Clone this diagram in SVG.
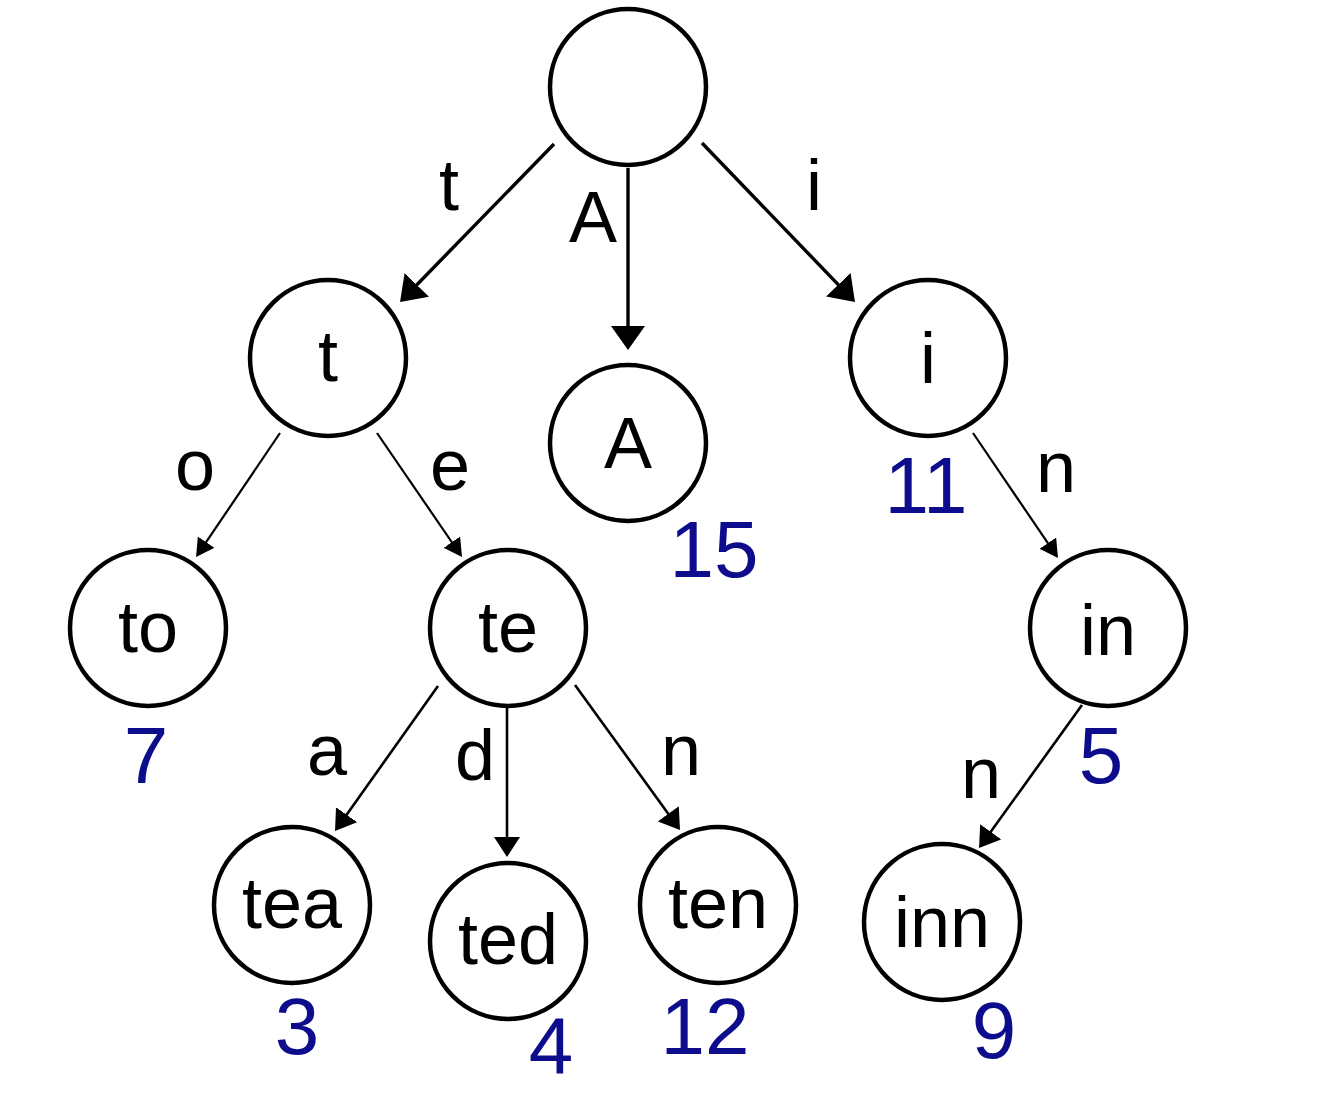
<svg xmlns="http://www.w3.org/2000/svg" width="1342" height="1096" viewBox="0 0 1342 1096">
<style>
.node circle{fill:#fff;stroke:#000;stroke-width:4.5}
.lbl{font-family:"Liberation Sans",Arial,sans-serif;font-size:72px;fill:#000;text-anchor:middle}
.num{font-family:"Liberation Sans",Arial,sans-serif;font-size:80px;fill:#0c0c8c;text-anchor:middle}
.e1{stroke:#000;stroke-width:3.4;fill:none;marker-end:url(#big)}
.e2{stroke:#000;stroke-width:2.6;fill:none;marker-end:url(#med)}
.e3{stroke:#000;stroke-width:2.2;fill:none;marker-end:url(#small)}
</style>
<defs>
<marker id="big" markerUnits="userSpaceOnUse" markerWidth="24" markerHeight="34" refX="4" refY="17" orient="auto"><path d="M0,0 L24,17 L0,34 z" fill="#000"/></marker>
<marker id="med" markerUnits="userSpaceOnUse" markerWidth="20" markerHeight="26" refX="4" refY="13" orient="auto"><path d="M0,0 L20,13 L0,26 z" fill="#000"/></marker>
<marker id="small" markerUnits="userSpaceOnUse" markerWidth="18" markerHeight="20" refX="4" refY="10" orient="auto"><path d="M0,0 L18,10 L0,20 z" fill="#000"/></marker>
</defs>
<rect width="1342" height="1096" fill="#fff"/>
<g id="connectors">
<path class="e1" d="M554,144 L414,287.7"/>
<path class="e1" d="M628,168 L628,330"/>
<path class="e1" d="M702,143 L841.1,287.6"/>
<path class="e3" d="M280,433 L203.9,545.4"/>
<path class="e3" d="M377,433 L454.1,545.5"/>
<path class="e2" d="M438,686 L344.3,818"/>
<path class="e2" d="M507,708 L507,841"/>
<path class="e2" d="M575,685 L670.6,817"/>
<path class="e3" d="M973,433 L1050.1,546.4"/>
<path class="e2" d="M1082,705 L988.4,835"/>
<text class="lbl" x="449" y="210">t</text>
<text class="lbl" x="593" y="242">A</text>
<text class="lbl" x="814" y="210">i</text>
<text class="lbl" x="195" y="490">o</text>
<text class="lbl" x="450" y="490">e</text>
<text class="lbl" x="327" y="775">a</text>
<text class="lbl" x="475" y="780">d</text>
<text class="lbl" x="681" y="775">n</text>
<text class="lbl" x="1056" y="492">n</text>
<text class="lbl" x="981" y="798">n</text>
</g>
<g id="root" class="node"><circle cx="628" cy="87" r="78"/></g>
<g id="n-t" class="node"><circle cx="328" cy="358" r="78"/><text class="lbl" x="328" y="381">t</text></g>
<g id="n-A" class="node"><circle cx="628" cy="443" r="78"/><text class="lbl" x="628" y="468">A</text><text class="num" x="714" y="577">15</text></g>
<g id="n-i" class="node"><circle cx="928" cy="358" r="78"/><text class="lbl" x="928" y="383">i</text><text class="num" x="926" y="513">11</text></g>
<g id="n-to" class="node"><circle cx="148" cy="628" r="78"/><text class="lbl" x="148" y="652">to</text><text class="num" x="146" y="783">7</text></g>
<g id="n-te" class="node"><circle cx="508" cy="628" r="78"/><text class="lbl" x="508" y="652">te</text></g>
<g id="n-in" class="node"><circle cx="1108" cy="628" r="78"/><text class="lbl" x="1108" y="655">in</text><text class="num" x="1101" y="783">5</text></g>
<g id="n-tea" class="node"><circle cx="292" cy="905" r="78"/><text class="lbl" x="292" y="928">tea</text><text class="num" x="297" y="1054">3</text></g>
<g id="n-ted" class="node"><circle cx="508" cy="941" r="78"/><text class="lbl" x="508" y="964">ted</text><text class="num" x="551" y="1073">4</text></g>
<g id="n-ten" class="node"><circle cx="718" cy="905" r="78"/><text class="lbl" x="718" y="928">ten</text><text class="num" x="705" y="1054">12</text></g>
<g id="n-inn" class="node"><circle cx="942" cy="922" r="78"/><text class="lbl" x="942" y="947">inn</text><text class="num" x="994" y="1058">9</text></g>
</svg>
